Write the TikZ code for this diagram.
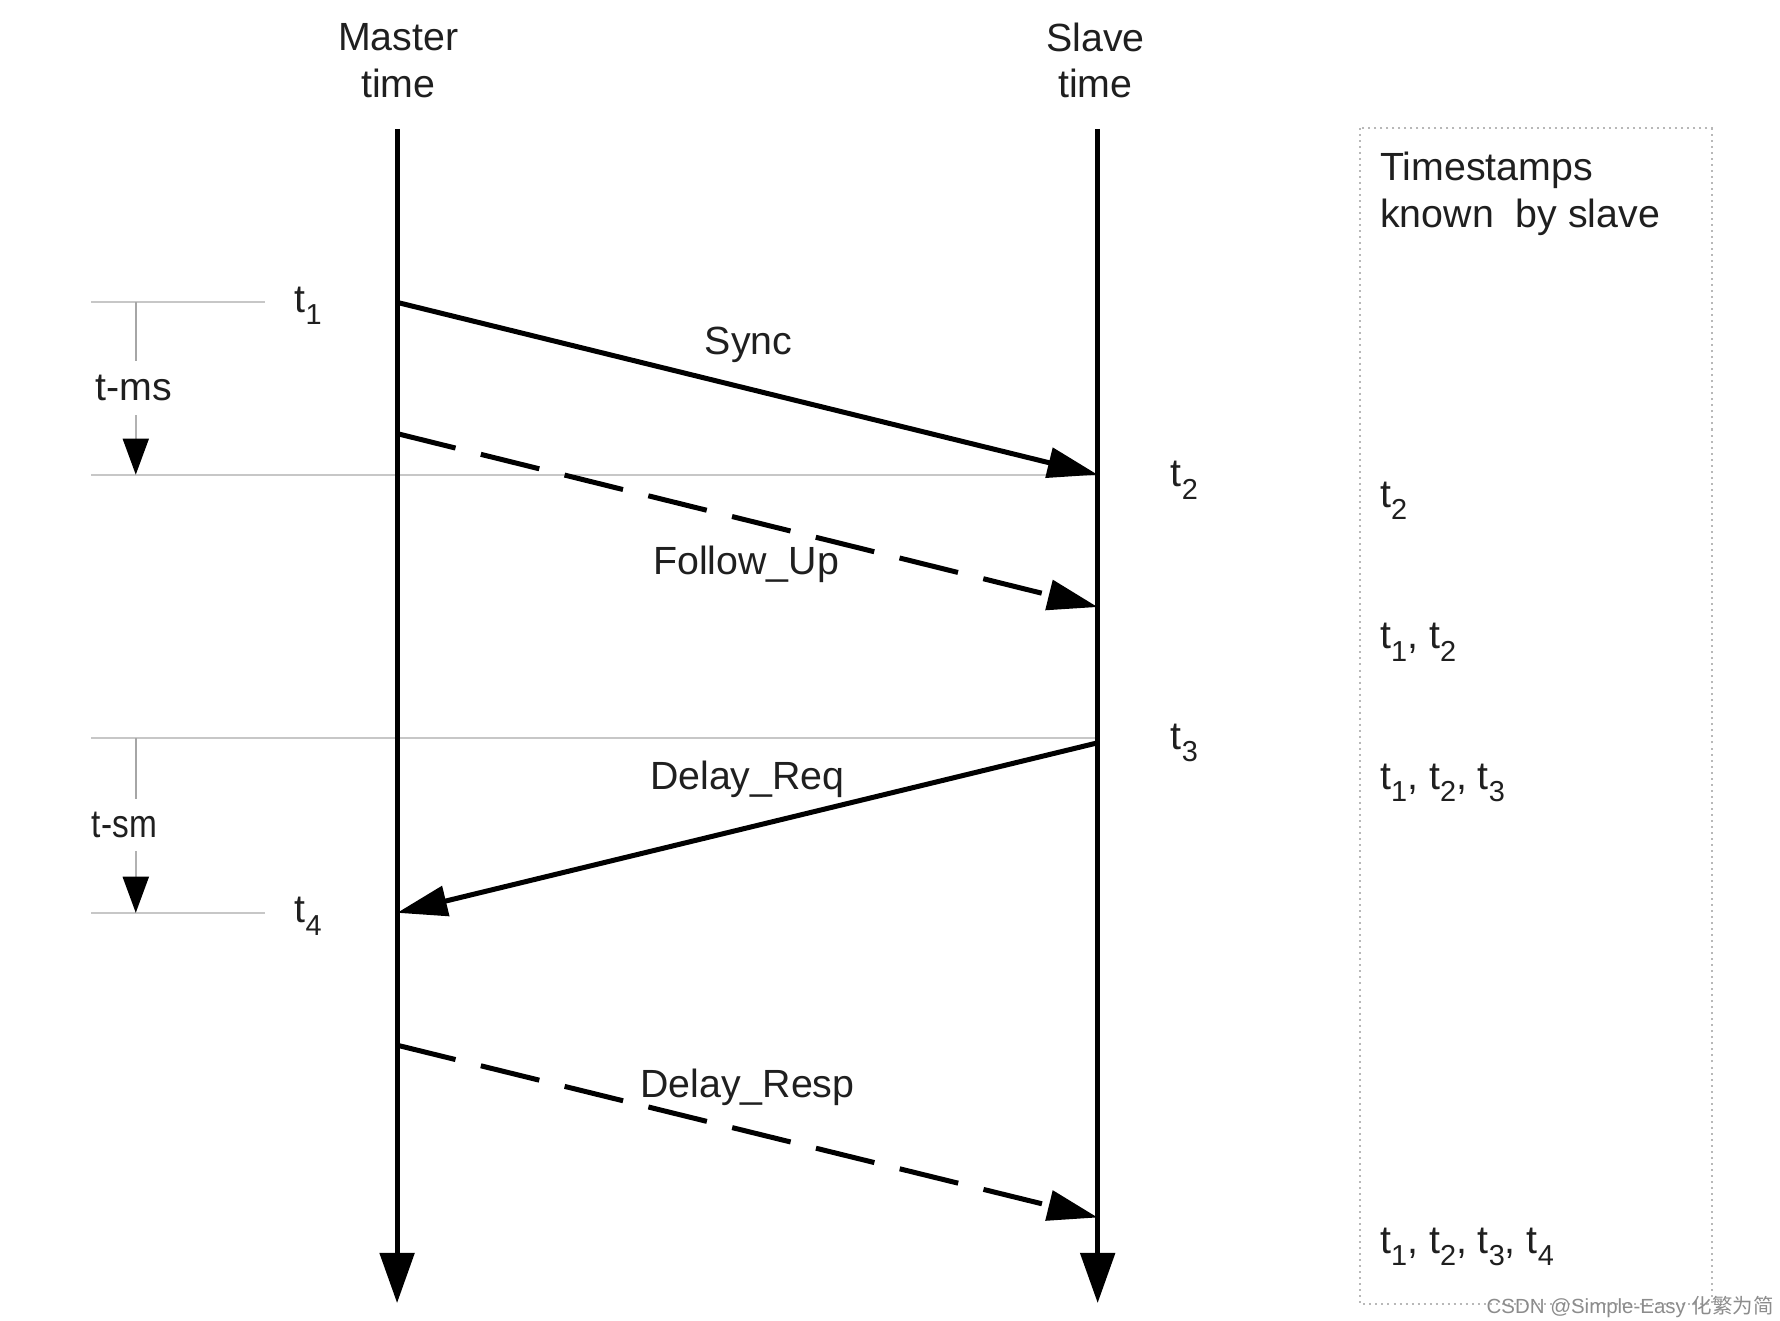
\documentclass[tikz,border=0pt]{standalone}
\usepackage{fontspec}
\setmainfont{Liberation Sans}
\newfontfamily\cjkfont{Noto Sans CJK SC}
\usetikzlibrary{arrows.meta}
\newcommand{\tsub}[1]{t\raisebox{-0.6ex}{\fontsize{7.2}{8}\selectfont #1}}
\begin{document}
\begin{tikzpicture}[x=0.01cm,y=-0.01cm,
  lbl/.style={inner sep=0pt,font=\fontsize{9.8}{11.6}\selectfont,text=black!88},
  life/.style={line width=1.25pt,-{Triangle[length=12.5pt,width=8.5pt]}},
  msg/.style={line width=1.25pt,-{Triangle[length=12.5pt,width=7.5pt]}},
  dmsg/.style={msg,dash pattern=on 15pt off 6.5pt},
  guide/.style={black!22,line width=0.45pt},
  smallarr/.style={black!30,line width=0.45pt,-{Triangle[length=9pt,width=6.5pt,fill=black,color=black]}},
  boxline/.style={black!28,line width=0.5pt,densely dotted}]
\useasboundingbox (0,0) rectangle (1560,1157);
% coordinates
\coordinate (mtop) at (348,113);
\coordinate (mbot) at (348,1142);
\coordinate (stop) at (962,113);
\coordinate (sbot) at (962,1142);
\coordinate (m1) at (348,265);
\coordinate (s2) at (962,416);
\coordinate (m2) at (348,380);
\coordinate (s3) at (962,532);
\coordinate (s4) at (962,651);
\coordinate (m4) at (348,800);
\coordinate (m5) at (348,916);
\coordinate (s5) at (962,1067);
% guides
\coordinate (g1a) at (80,265); \coordinate (g1b) at (232,265);
\coordinate (g2a) at (80,416);
\coordinate (g3a) at (80,647); \coordinate (g3b) at (962,647);
\coordinate (g4a) at (80,800); \coordinate (g4b) at (232,800);
\draw[guide] (g1a) -- (g1b);
\draw[guide] (g2a) -- (s2);
\draw[guide] (g3a) -- (g3b);
\draw[guide] (g4a) -- (g4b);
% box
\coordinate (bx1) at (1192,112); \coordinate (bx2) at (1500,1143);
\draw[boxline] (bx1) rectangle (bx2);
% headers
\node[lbl,align=center] (mhead) at (349,53) {Master\\time};
\node[lbl,align=center] (shead) at (960,53) {Slave\\time};
% lifelines
\draw[life] (mtop) -- (mbot);
\draw[life] (stop) -- (sbot);
% messages
\draw[msg] (m1) -- (s2);
\draw[dmsg] (m2) -- (s3);
\draw[msg] (s4) -- (m4);
\draw[dmsg] (m5) -- (s5);
\node[lbl] (lsync) at (656,302) {Sync};
\node[lbl] (lfu) at (654,495) {Follow\_Up};
\node[lbl] (ldreq) at (655,683) {Delay\_Req};
\node[lbl] (ldresp) at (655,953) {Delay\_Resp};
% time labels
\node[lbl] (t1) at (270,268) {\tsub{1}};
\node[lbl] (t2) at (1038,421) {\tsub{2}};
\node[lbl] (t3) at (1038,651) {\tsub{3}};
\node[lbl] (t4) at (270,803) {\tsub{4}};
% t-ms / t-sm
\coordinate (a1) at (119,265); \coordinate (a2) at (119,316);
\coordinate (a3) at (119,364); \coordinate (a4) at (119,416);
\draw[guide,black!35] (a1) -- (a2);
\node[lbl] (tms) at (117,340) {t-ms};
\draw[smallarr] (a3) -- (a4);
\coordinate (b1) at (119,647); \coordinate (b2) at (119,700);
\coordinate (b3) at (119,746); \coordinate (b4) at (119,800);
\draw[guide,black!35] (b1) -- (b2);
\node[lbl,xscale=0.85] (tsm) at (109,723) {t-sm};
\draw[smallarr] (b3) -- (b4);
% box texts
\node[lbl,anchor=west,align=left] (ts) at (1209,170) {Timestamps\\known~~by slave};
\node[lbl,anchor=west] (k1) at (1209,439) {\tsub{2}};
\node[lbl,anchor=west] (k2) at (1209,563) {\tsub{1}, \tsub{2}};
\node[lbl,anchor=west] (k3) at (1209,686) {\tsub{1}, \tsub{2}, \tsub{3}};
\node[lbl,anchor=west] (k4) at (1209,1093) {\tsub{1}, \tsub{2}, \tsub{3}, \tsub{4}};
% watermark
\node[inner sep=0pt,anchor=east,text=black!45,font=\fontsize{5.1}{6}\selectfont] (wm) at (1555,1145) {CSDN @Simple-Easy {\cjkfont 化繁为简}};
\end{tikzpicture}
\end{document}
